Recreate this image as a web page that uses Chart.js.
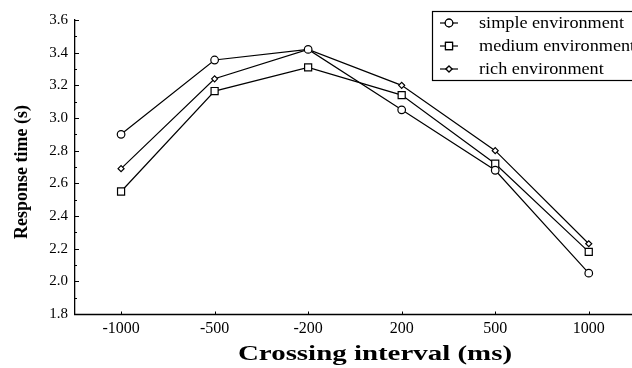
<!DOCTYPE html>
<html>
<head>
<meta charset="utf-8">
<script src="https://cdn.jsdelivr.net/npm/chart.js@4/dist/chart.umd.min.js"></script>
<style>
  html, body { margin: 0; padding: 0; background: #fff; }
  #wrap { width: 632px; height: 368px; }
</style>
</head>
<body>
<div id="wrap"><canvas id="chart"></canvas></div>
<script>
// data
const categories = ['-1000', '-500', '-200', '200', '500', '1000'];
const simpleEnv = [2.90, 3.355, 3.42, 3.05, 2.68, 2.05];
const mediumEnv = [2.55, 3.165, 3.31, 3.14, 2.72, 2.18];
const richEnv = [2.69, 3.24, 3.42, 3.20, 2.80, 2.23];
const yTicks = [1.8, 2.0, 2.2, 2.4, 2.6, 2.8, 3.0, 3.2, 3.4, 3.6];

const serif = '"Liberation Serif", "DejaVu Serif", serif';

const toPoints = (arr) => arr.map((v, i) => ({ x: i, y: v }));

const makeSet = (label, values, style, radius) => ({
    label: label,
    data: toPoints(values),
    borderColor: '#000',
    borderWidth: 1.2,
    pointStyle: style,
    pointRadius: radius,
    pointBackgroundColor: '#fff',
    pointBorderColor: '#000',
    pointBorderWidth: 1.2,
    tension: 0
});

// text squeezed/stretched to the width the original figure shows
const wideText = (ctx, text, x, y, width) => {
    const w = ctx.measureText(text).width;
    ctx.save();
    ctx.translate(x, y);
    ctx.scale(width / w, 1);
    ctx.fillText(text, 0, 0);
    ctx.restore();
};

// inward ticks, x axis line, axis titles and the boxed legend
const decorations = {
    id: 'decorations',
    afterDraw(chart) {
        const ctx = chart.ctx;
        const xs = chart.scales.x, ys = chart.scales.y;
        const area = chart.chartArea;
        const base = Math.round(area.bottom) + 0.5;
        ctx.save();
        ctx.strokeStyle = '#000';
        ctx.lineWidth = 1;
        ctx.beginPath();
        for (let v = 18; v <= 36; v++) {
            const y = Math.round(ys.getPixelForValue(v / 10)) + 0.5;
            const len = v % 2 === 0 ? 4 : 2;
            ctx.moveTo(area.left, y);
            ctx.lineTo(area.left + len, y);
        }
        categories.forEach((c, i) => {
            const x = Math.round(xs.getPixelForValue(i)) + 0.5;
            ctx.moveTo(x, base);
            ctx.lineTo(x, base - 3);
        });
        ctx.stroke();
        // the x axis runs off the right edge in the original
        ctx.beginPath();
        ctx.lineWidth = 1.3;
        ctx.moveTo(area.left - 1, base);
        ctx.lineTo(chart.width, base);
        ctx.stroke();

        // axis titles
        ctx.fillStyle = '#000';
        ctx.font = 'bold 21px ' + serif;
        ctx.textAlign = 'center';
        ctx.textBaseline = 'middle';
        wideText(ctx, 'Crossing interval (ms)', 375, 355, 274);
        ctx.save();
        ctx.translate(22, 172);
        ctx.rotate(-Math.PI / 2);
        ctx.font = 'bold 18px ' + serif;
        ctx.fillText('Response time (s)', 0, 0);
        ctx.restore();

        // legend
        ctx.fillStyle = '#fff';
        ctx.fillRect(432, 11, 210, 69);
        ctx.lineWidth = 1.2;
        ctx.strokeRect(432.5, 11.5, 210, 69);
        ctx.font = '17px ' + serif;
        ctx.textAlign = 'left';
        ctx.fillStyle = '#000';
        const rows = [23, 46, 69];
        chart.data.datasets.forEach((ds, i) => {
            const y = rows[i];
            ctx.beginPath();
            ctx.lineWidth = 1.2;
            ctx.moveTo(440, y);
            ctx.lineTo(458, y);
            ctx.stroke();
            ctx.fillStyle = '#fff';
            Chart.helpers.drawPoint(ctx, {
                pointStyle: ds.pointStyle,
                radius: ds.pointRadius,
                borderWidth: 1.2
            }, 449, y);
            ctx.fill();
            ctx.stroke();
            ctx.fillStyle = '#000';
            const w = ctx.measureText(ds.label).width;
            wideText(ctx, ds.label, 479, y + 1, w * 1.07);
        });
        ctx.restore();
    }
};

const initChart = () => {
    const el = document.getElementById('chart');
    return new Chart(el, {
        type: 'line',
        data: {
            datasets: [
                makeSet('simple environment', simpleEnv, 'circle', 3.8),
                makeSet('medium environment', mediumEnv, 'rect', 5),
                makeSet('rich environment', richEnv, 'rectRot', 3)
            ]
        },
        options: {
            responsive: false,
            animation: false,
            devicePixelRatio: 1,
            layout: { padding: { left: 0, right: 0, top: 20, bottom: 0 } },
            plugins: {
                legend: { display: false },
                tooltip: { enabled: false }
            },
            scales: {
                x: {
                    type: 'linear',
                    min: -0.4925,
                    max: 5.396,
                    grid: { display: false, tickLength: 0 },
                    border: { display: false },
                    afterBuildTicks: (scale) => {
                        scale.ticks = categories.map((c, i) => ({ value: i }));
                    },
                    afterFit: (scale) => {
                        scale.height = 54;
                        scale.paddingLeft = 0;
                        scale.paddingRight = 0;
                    },
                    ticks: {
                        color: '#000',
                        padding: 5,
                        maxRotation: 0,
                        autoSkip: false,
                        font: { family: serif, size: 16 },
                        callback: (v) => categories[v]
                    }
                },
                y: {
                    min: 1.8,
                    max: 3.6,
                    grid: { display: false, tickLength: 0 },
                    border: { display: true, color: '#000', width: 1.3 },
                    afterBuildTicks: (scale) => {
                        scale.ticks = yTicks.map((v) => ({ value: v }));
                    },
                    afterFit: (scale) => { scale.width = 75; },
                    ticks: {
                        color: '#000',
                        padding: 7,
                        font: { family: serif, size: 15 },
                        callback: (v) => v.toFixed(1)
                    }
                }
            }
        },
        plugins: [decorations]
    });
};

document.addEventListener('DOMContentLoaded', function () {
    const el = document.getElementById('chart');
    el.width = 632;
    el.height = 368;
    initChart();
});
</script>
</body>
</html>
